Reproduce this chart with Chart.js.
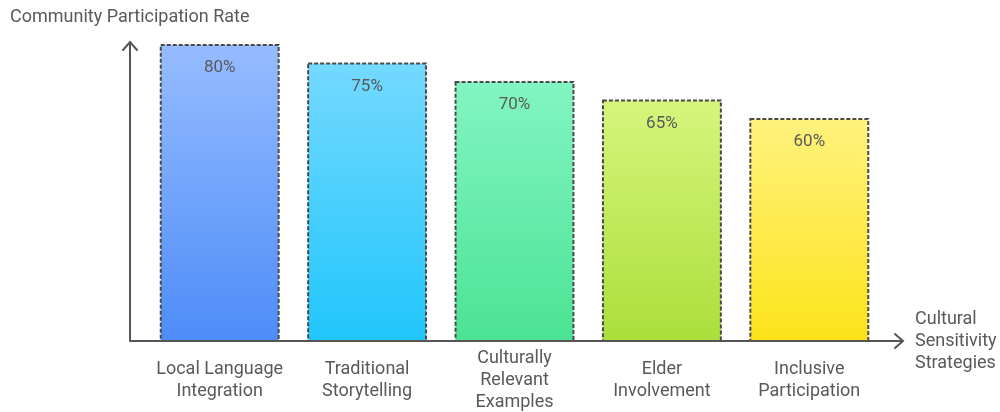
<!DOCTYPE html>
<html>
<head>
<meta charset="utf-8">
<script src="https://cdn.jsdelivr.net/npm/chart.js@4/dist/chart.umd.min.js"></script>
<style>
  html, body { margin: 0; padding: 0; background: #fff; }
  #wrap { width: 1000px; height: 412px; position: relative; }
</style>
</head>
<body>
<div id="wrap"><canvas id="c" width="1000" height="412"></canvas></div>
<script>
const categories = [
  ["Local Language", "Integration"],
  ["Traditional", "Storytelling"],
  ["Culturally", "Relevant", "Examples"],
  ["Elder", "Involvement"],
  ["Inclusive", "Participation"]
];
const participationRate = [80, 75, 70, 65, 60];
const valueLabels = ["80%", "75%", "70%", "65%", "60%"];
const topColors = ["#96bcff", "#74d9ff", "#82f5c2", "#d6f57c", "#fff27e"];
const bottomColors = ["#4d8cf8", "#20c6fb", "#4ce394", "#aadf3a", "#fde31a"];
const yAxisTitle = "Community Participation Rate";
const xAxisTitle = ["Cultural", "Sensitivity", "Strategies"];

const FONT = "Roboto, 'Noto Sans', sans-serif";
const TEXT = "#595959";

const decor = {
  id: 'decor',
  afterDatasetsDraw(chart) {
    const ctx = chart.ctx;
    const meta = chart.getDatasetMeta(0);
    const ys = chart.scales.y;
    const base = ys.getPixelForValue(0);
    ctx.save();
    // dashed bar borders
    ctx.strokeStyle = "#4a4a4a";
    ctx.lineWidth = 2;
    ctx.setLineDash([4, 2]);
    meta.data.forEach((bar) => {
      const p = bar.getProps(['x', 'y', 'width', 'base'], true);
      const l = p.x - p.width / 2, r = p.x + p.width / 2;
      ctx.strokeRect(l, p.y, r - l, p.base - p.y);
    });
    ctx.setLineDash([]);
    // value labels
    ctx.fillStyle = TEXT;
    ctx.font = "17px " + FONT;
    ctx.textAlign = "center";
    ctx.textBaseline = "middle";
    meta.data.forEach((bar, i) => {
      const p = bar.getProps(['x', 'y'], true);
      ctx.fillText(valueLabels[i], p.x, p.y + 23);
    });
    // axes with arrows
    const ax = 130;
    const xEnd = 903;
    const yTop = 42;
    ctx.strokeStyle = "#555";
    ctx.lineWidth = 2;
    ctx.lineCap = "round";
    ctx.beginPath();
    ctx.moveTo(ax, base);
    ctx.lineTo(ax, yTop);
    ctx.moveTo(ax - 7, yTop + 8);
    ctx.lineTo(ax, yTop);
    ctx.lineTo(ax + 7, yTop + 8);
    ctx.moveTo(ax, base);
    ctx.lineTo(xEnd, base);
    ctx.moveTo(xEnd - 8, base - 7);
    ctx.lineTo(xEnd, base);
    ctx.lineTo(xEnd - 8, base + 7);
    ctx.stroke();
    // titles
    ctx.fillStyle = TEXT;
    ctx.font = "18px " + FONT;
    ctx.textAlign = "left";
    ctx.textBaseline = "middle";
    ctx.fillText(yAxisTitle, 10, 17);
    xAxisTitle.forEach((t, i) => ctx.fillText(t, 915, 319 + i * 22));
    ctx.restore();
  }
};

new Chart(document.getElementById('c'), {
  type: 'bar',
  data: {
    labels: categories,
    datasets: [{
      data: participationRate,
      borderWidth: 0,
      categoryPercentage: 1,
      barPercentage: 0.8,
      backgroundColor(context) {
        const chart = context.chart;
        const i = context.dataIndex;
        if (!chart.chartArea || !chart.scales.y) return bottomColors[i];
        const ys = chart.scales.y;
        const top = ys.getPixelForValue(participationRate[i]);
        const bot = ys.getPixelForValue(0);
        const g = chart.ctx.createLinearGradient(0, top, 0, bot);
        g.addColorStop(0, topColors[i]);
        g.addColorStop(1, bottomColors[i]);
        return g;
      }
    }]
  },
  options: {
    responsive: false,
    animation: false,
    layout: { padding: { left: 146, right: 117, top: 45, bottom: 0 } },
    plugins: { legend: { display: false }, tooltip: { enabled: false } },
    scales: {
      y: { display: false, min: 0, max: 80 },
      x: {
        grid: { display: false, drawTicks: false },
        border: { display: false },
        ticks: {
          color: TEXT,
          font: { family: FONT, size: 18, lineHeight: '22px' },
          padding: 17,
          crossAlign: 'center',
          maxRotation: 0,
          autoSkip: false
        },
        afterFit(scale) { scale.height = 71; }
      }
    }
  },
  plugins: [decor]
});
</script>
</body>
</html>
